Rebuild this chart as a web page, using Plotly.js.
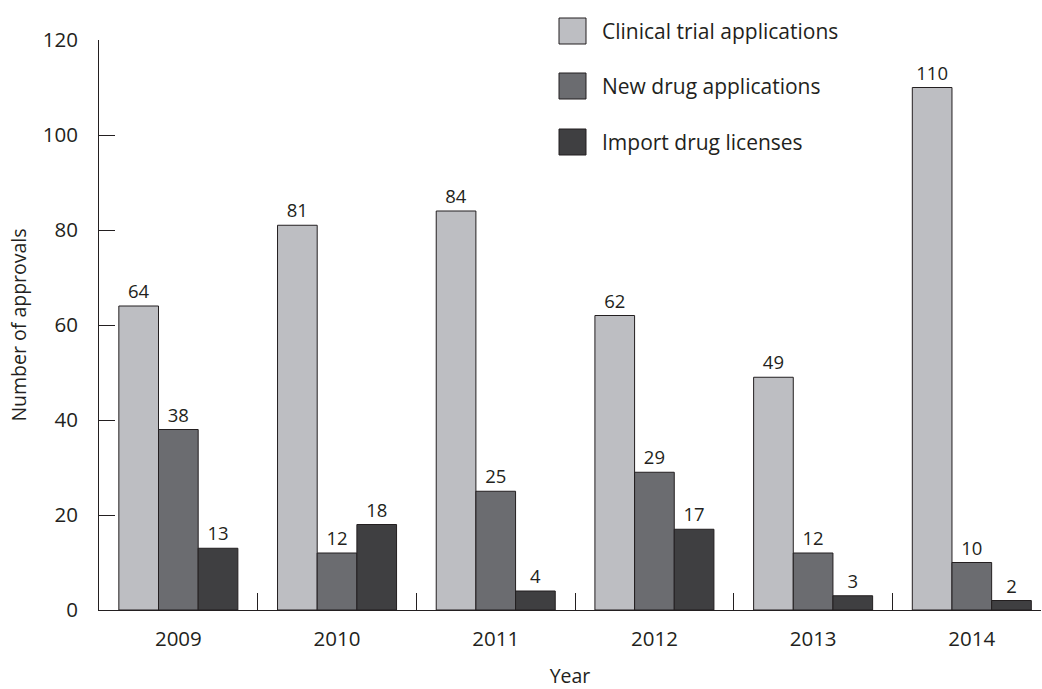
<!DOCTYPE html>
<html>
<head>
<meta charset="utf-8">
<script src="https://cdn.plot.ly/plotly-3.0.1.min.js"></script>
<style>
  html, body { margin: 0; padding: 0; background: #ffffff; }
  #chart { width: 1042px; height: 689px; }
</style>
</head>
<body>
<div id="chart"></div>
<script>
// Approvals per year, by application type
const years = ['2009', '2010', '2011', '2012', '2013', '2014'];
const seriesNames = ['Clinical trial applications', 'New drug applications', 'Import drug licenses'];
const clinicalTrial = [64, 81, 84, 62, 49, 110];
const newDrug = [38, 12, 25, 29, 12, 10];
const importLicenses = [13, 18, 4, 17, 3, 2];
const yTicks = [0, 20, 40, 60, 80, 100, 120];

const seriesValues = [clinicalTrial, newDrug, importLicenses];
const fills = ['#bdbec2', '#6b6c70', '#3f3f41'];
const ink = '#231f20';
const font = 'Open Sans, sans-serif';

const W = 1042, H = 689;
const M = { l: 99, r: 1, t: 40, b: 79 };
const plotW = W - M.l - M.r, plotH = H - M.t - M.b;
// convert page pixels to paper fractions for the legend block
const px = x => (x - M.l) / plotW;
const py = y => (H - M.b - y) / plotH;

const traces = seriesValues.map((vals, i) => ({
  type: 'bar',
  name: seriesNames[i],
  x: years,
  y: vals,
  text: vals.map(String),
  textposition: 'outside',
  cliponaxis: false,
  textfont: { family: font, size: 18.5, color: ink },
  marker: { color: fills[i], line: { color: ink, width: 1 } },
  hoverinfo: 'x+y+name'
}));

// hand-built legend: large swatches with labels to their right
const legendRows = [31, 86, 142];
const shapes = legendRows.map((cy, i) => ({
  type: 'rect', xref: 'paper', yref: 'paper',
  x0: px(559), x1: px(586), y0: py(cy + 13), y1: py(cy - 13),
  fillcolor: fills[i], line: { color: ink, width: 1 }
}));
const annotations = legendRows.map((cy, i) => ({
  xref: 'paper', yref: 'paper', x: px(600), y: py(cy),
  xanchor: 'left', yanchor: 'middle', showarrow: false,
  text: seriesNames[i], font: { family: font, size: 21, color: ink }
}));

const layout = {
  width: W, height: H,
  margin: M,
  paper_bgcolor: '#ffffff', plot_bgcolor: '#ffffff',
  barmode: 'group', bargap: 0.25, bargroupgap: 0,
  showlegend: false,
  font: { family: font, color: ink },
  xaxis: {
    type: 'category',
    range: [-0.5, 5.436],
    showline: true, linecolor: ink, linewidth: 1,
    ticks: 'inside', tickson: 'boundaries', ticklen: 17, tickcolor: ink, tickwidth: 1,
    tickfont: { family: font, size: 20.5, color: ink },
    ticklabelstandoff: 10,
    showgrid: false, zeroline: false,
    title: { text: 'Year', font: { family: font, size: 19.5, color: ink }, standoff: 25 }
  },
  yaxis: {
    range: [0, 120],
    tickvals: yTicks,
    showline: true, linecolor: ink, linewidth: 1,
    ticks: 'inside', ticklen: 16, tickcolor: ink, tickwidth: 1,
    tickfont: { family: font, size: 20.5, color: ink },
    ticklabelstandoff: 16,
    showgrid: false, zeroline: false,
    title: { text: 'Number of approvals', font: { family: font, size: 19.5, color: ink }, standoff: 10 }
  },
  shapes: shapes,
  annotations: annotations
};

Plotly.newPlot('chart', traces, layout, { displayModeBar: false, staticPlot: true });
</script>
</body>
</html>
